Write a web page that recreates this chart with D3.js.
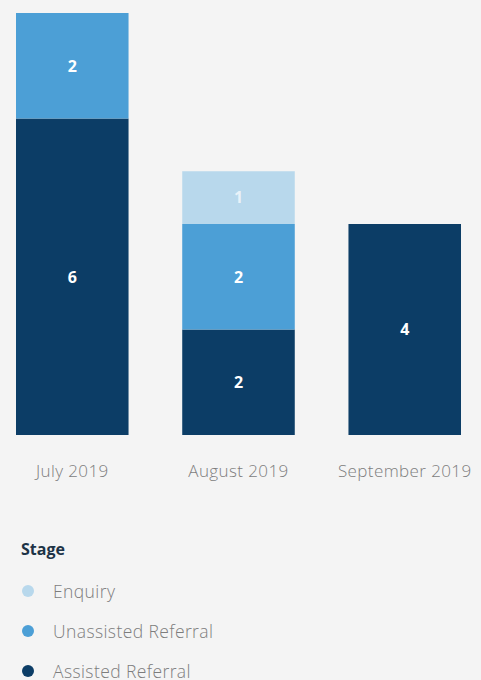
<!DOCTYPE html>
<html>
<head>
<meta charset="utf-8">
<script src="https://cdn.jsdelivr.net/npm/d3@7"></script>
<style>
  body { margin: 0; background: #f4f4f4; }
  svg { display: block; font-family: "Open Sans", Lato, sans-serif; }
</style>
</head>
<body>
<div id="chart"></div>
<script>
const months = ['July 2019', 'August 2019', 'September 2019'];
const stages = ['Assisted Referral', 'Unassisted Referral', 'Enquiry'];
const assisted = [6, 2, 4];
const unassisted = [2, 2, 0];
const enquiry = [0, 1, 0];
const colours = ['#0c3d66', '#4c9fd6', '#b8d8ec'];

const width = 481, height = 680;

const rows = months.map((m, i) => ({
    month: m,
    'Assisted Referral': assisted[i],
    'Unassisted Referral': unassisted[i],
    'Enquiry': enquiry[i]
}));

const series = d3.stack().keys(stages)(rows);

const x = d3.scaleBand()
    .domain(months)
    .range([16, 461])
    .paddingInner(0.323)
    .paddingOuter(0);

const y = d3.scaleLinear()
    .domain([0, 8])
    .range([435, 13]);

const colour = d3.scaleOrdinal().domain(stages).range(colours);

const svg = d3.select('#chart')
    .append('svg')
    .attr('width', width)
    .attr('height', height);

const g = svg.append('g');

series.forEach(s => {
    const layer = g.append('g').attr('fill', colour(s.key));
    const segs = s.filter(d => d[1] - d[0] > 0);

    layer.selectAll('rect')
        .data(segs)
        .enter()
        .append('rect')
        .attr('x', d => x(d.data.month))
        .attr('y', d => y(d[1]))
        .attr('width', x.bandwidth())
        .attr('height', d => y(d[0]) - y(d[1]));

    layer.selectAll('text')
        .data(segs)
        .enter()
        .append('text')
        .attr('x', d => x(d.data.month) + x.bandwidth() / 2)
        .attr('y', d => (y(d[0]) + y(d[1])) / 2)
        .attr('dy', '0.36em')
        .attr('text-anchor', 'middle')
        .style('fill', s.key === 'Enquiry' ? 'rgba(255,255,255,0.7)' : '#fff')
        .style('font-size', '16px')
        .style('font-weight', 'bold')
        .text(d => d[1] - d[0]);
});

const xAxis = svg.append('g')
    .attr('transform', 'translate(0,435)')
    .call(d3.axisBottom(x).tickSize(0).tickPadding(30));

xAxis.select('.domain').remove();
xAxis.selectAll('text')
    .style('font-family', '"Open Sans", Lato, sans-serif')
    .style('font-size', '17px')
    .style('font-weight', '300')
    .style('letter-spacing', '0.4px')
    .style('fill', '#7d7d7d');

// legend
const legend = svg.append('g').attr('transform', 'translate(20,0)');

legend.append('text')
    .attr('x', 1)
    .attr('y', 555)
    .style('font-size', '16px')
    .style('font-weight', 'bold')
    .style('fill', '#1d3346')
    .text('Stage');

const legendOrder = ['Enquiry', 'Unassisted Referral', 'Assisted Referral'];

const item = legend.selectAll('.item')
    .data(legendOrder)
    .enter()
    .append('g')
    .attr('transform', (d, i) => 'translate(0,' + (591 + i * 40) + ')');

item.append('circle')
    .attr('cx', 8)
    .attr('cy', 0)
    .attr('r', 6)
    .style('fill', d => colour(d));

item.append('text')
    .attr('x', 33)
    .attr('dy', '0.4em')
    .style('font-size', '17.5px')
    .style('font-weight', '300')
    .style('letter-spacing', '0.4px')
    .style('fill', '#7d7d7d')
    .text(d => d);
</script>
</body>
</html>
